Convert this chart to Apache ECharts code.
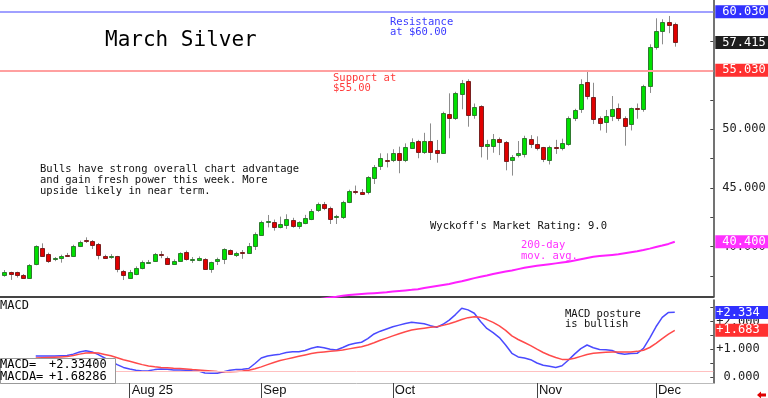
<!DOCTYPE html>
<html>
<head>
<meta charset="utf-8">
<script src="https://cdn.jsdelivr.net/npm/echarts@6/dist/echarts.min.js"></script>
<style>
  html, body { margin: 0; padding: 0; background: #fff; }
  #chart { width: 768px; height: 398px; }
</style>
</head>
<body>
<div id="chart"></div>
<script>
// daily candles, index 0 = first session shown (early July)
const opens = [37.51, 37.8, 37.8, 37.6, 37.37, 38.48, 39.85, 39.33, 38.87, 38.99,
  39.3, 39.19, 39.98, 40.52, 40.47, 40.19, 39.19, 39.1, 39.16, 37.91,
  37.37, 37.63, 38.14, 38.62, 38.76, 39.37, 39.05, 38.57, 38.76, 39.5,
  38.88, 38.79, 38.93, 38.08, 38.7, 38.91, 39.7, 39.27, 39.52, 39.5,
  40.05, 41.0, 42.1, 42.12, 41.63, 41.83, 42.26, 41.69, 42.03, 42.35,
  43.06, 43.6, 43.31, 42.5, 42.46, 43.77, 44.7, 44.68, 44.59, 45.9,
  46.81, 47.42, 47.32, 47.95, 47.32, 48.46, 49.03, 48.09, 49.0, 48.23,
  47.95, 51.28, 50.94, 53.07, 54.15, 51.22, 51.99, 48.55, 48.6, 49.15,
  48.9, 47.4, 47.8, 47.95, 49.15, 48.75, 48.45, 47.3, 48.5, 48.4,
  48.8, 51.0, 51.7, 54.0, 52.78, 51.0, 50.6, 51.1, 51.8, 50.95,
  50.43, 51.8, 51.7, 53.7, 57.0, 58.4, 59.13, 58.98];
const closes = [37.8, 37.6, 37.57, 37.37, 38.45, 40.02, 39.13, 38.76, 38.99, 39.19,
  39.25, 40.07, 40.36, 40.48, 40.13, 39.22, 39.02, 39.17, 38.02, 37.57,
  37.85, 38.17, 38.65, 38.7, 39.33, 39.3, 38.57, 38.79, 39.42, 38.91,
  38.95, 38.99, 38.06, 38.65, 38.91, 39.76, 39.36, 39.45, 39.48, 40.07,
  41.1, 42.12, 42.17, 41.69, 41.89, 42.32, 41.75, 42.06, 42.46, 43.06,
  43.6, 43.26, 42.35, 42.56, 43.77, 44.74, 44.66, 44.54, 45.9, 46.81,
  47.52, 47.36, 47.95, 47.32, 48.46, 48.94, 48.09, 49.0, 48.09, 47.95,
  51.37, 50.94, 53.07, 53.97, 51.22, 51.93, 48.58, 48.75, 49.17, 48.9,
  47.3, 47.65, 48.0, 49.3, 48.75, 48.4, 47.4, 48.45, 48.45, 48.85,
  51.0, 51.65, 53.87, 52.84, 50.94, 50.56, 51.13, 51.7, 50.94, 50.3,
  51.8, 51.75, 53.7, 57.05, 58.4, 59.13, 58.9, 57.415];
const highs = [37.99, 37.85, 37.85, 37.65, 38.5, 40.1, 40.27, 39.47, 39.1, 39.3,
  39.45, 40.15, 40.5, 40.78, 40.55, 40.3, 39.3, 39.35, 39.2, 38.0,
  38.0, 38.3, 38.8, 38.85, 39.45, 39.6, 39.15, 38.9, 39.5, 39.65,
  39.1, 39.15, 39.0, 38.7, 39.05, 39.85, 39.75, 39.55, 39.7, 40.3,
  41.2, 42.2, 42.69, 42.3, 42.55, 42.75, 42.45, 42.15, 42.7, 43.2,
  43.75, 43.8, 43.4, 42.7, 43.9, 44.85, 45.2, 44.9, 46.0, 46.95,
  47.95, 47.95, 48.3, 48.52, 48.8, 49.23, 49.1, 49.7, 50.5, 49.09,
  51.5, 53.07, 53.2, 54.21, 54.27, 52.2, 52.05, 49.1, 49.6, 49.3,
  49.0, 47.8, 49.0, 49.45, 49.5, 49.4, 48.5, 48.6, 49.1, 49.2,
  51.1, 51.75, 54.27, 55.06, 53.97, 51.1, 51.65, 52.84, 52.2, 51.1,
  51.85, 52.2, 53.8, 57.25, 59.47, 59.39, 59.67, 59.1];
const lows = [37.42, 37.15, 37.35, 37.3, 37.3, 38.4, 39.1, 38.6, 38.75, 38.62,
  39.1, 39.1, 39.95, 40.3, 39.79, 38.9, 38.95, 38.95, 37.8, 37.14,
  37.25, 37.55, 38.05, 38.55, 38.7, 39.0, 38.45, 38.45, 38.7, 38.8,
  38.6, 38.75, 38.0, 37.76, 38.42, 38.5, 39.3, 39.1, 38.95, 39.45,
  39.7, 40.9, 41.63, 41.35, 41.55, 41.5, 41.6, 41.5, 41.9, 42.25,
  42.95, 43.1, 41.92, 41.92, 42.35, 43.7, 44.45, 44.45, 44.45, 45.33,
  46.53, 46.75, 47.2, 46.25, 47.2, 48.4, 47.53, 47.9, 47.38, 47.15,
  47.9, 49.23, 50.8, 51.71, 50.22, 50.9, 47.6, 47.4, 48.0, 47.8,
  46.5, 46.05, 47.6, 47.6, 48.4, 48.2, 47.2, 47.0, 47.9, 48.2,
  48.6, 50.7, 51.4, 52.55, 50.45, 49.9, 49.7, 50.7, 50.7, 48.6,
  49.9, 50.9, 51.5, 53.1, 56.8, 57.25, 58.2, 57.05];

// 200-day moving average, visible from index maStart on
const maStart = 50;
const maValues = [35.49, 35.57, 35.65, 35.72, 35.8, 35.86, 35.9, 35.94, 35.98, 36.02,
  36.06, 36.1, 36.15, 36.2, 36.25, 36.3, 36.36, 36.45, 36.54, 36.63,
  36.72, 36.8, 36.92, 37.04, 37.17, 37.3, 37.42, 37.53, 37.65, 37.76,
  37.86, 37.96, 38.07, 38.18, 38.28, 38.35, 38.42, 38.49, 38.56, 38.63,
  38.7, 38.8, 38.91, 39.02, 39.13, 39.18, 39.23, 39.28, 39.33, 39.42,
  39.51, 39.6, 39.7, 39.82, 39.95, 40.08, 40.22, 40.4];

// MACD panel, from index macdStart on
const macdStart = 5;
const macdValues = [0.75, 0.75, 0.75, 0.75, 0.76, 0.77, 0.82, 0.9, 0.94, 0.9,
  0.8, 0.68, 0.56, 0.44, 0.34, 0.28, 0.24, 0.21, 0.22, 0.26,
  0.28, 0.27, 0.25, 0.25, 0.24, 0.22, 0.21, 0.14, 0.13, 0.13,
  0.18, 0.24, 0.26, 0.27, 0.3, 0.48, 0.68, 0.75, 0.79, 0.82,
  0.88, 0.91, 0.91, 0.95, 1.03, 1.09, 1.05, 1.0, 0.97, 1.06,
  1.16, 1.21, 1.25, 1.38, 1.55, 1.65, 1.73, 1.81, 1.87, 1.93,
  1.97, 1.95, 1.92, 1.85, 1.79, 1.9, 2.05, 2.25, 2.48, 2.42,
  2.3, 2.0, 1.75, 1.6, 1.42, 1.15, 0.85, 0.72, 0.68, 0.62,
  0.5, 0.42, 0.38, 0.34, 0.4, 0.6, 0.82, 1.02, 1.15, 1.05,
  0.99, 0.98, 0.95, 0.85, 0.82, 0.84, 0.85, 1.03, 1.4, 1.81,
  2.15, 2.33, 2.334];
const signalValues = [0.68, 0.69, 0.7, 0.71, 0.72, 0.73, 0.77, 0.82, 0.86, 0.87,
  0.86, 0.81, 0.76, 0.69, 0.62, 0.56, 0.5, 0.44, 0.39, 0.36,
  0.34, 0.33, 0.31, 0.3, 0.28, 0.26, 0.25, 0.23, 0.21, 0.19,
  0.18, 0.18, 0.19, 0.21, 0.24, 0.29, 0.36, 0.44, 0.52, 0.59,
  0.64, 0.69, 0.74, 0.79, 0.84, 0.88, 0.9, 0.92, 0.94, 0.97,
  1.01, 1.05, 1.09, 1.15, 1.23, 1.32, 1.4, 1.48, 1.56, 1.63,
  1.69, 1.73, 1.76, 1.79, 1.81, 1.86, 1.92, 1.99, 2.07, 2.14,
  2.17, 2.15, 2.07, 1.97, 1.84, 1.68, 1.48, 1.35, 1.24, 1.13,
  1.0, 0.88, 0.78, 0.7, 0.63, 0.63, 0.67, 0.74, 0.81, 0.85,
  0.87, 0.89, 0.9, 0.9, 0.9, 0.9, 0.92, 0.96, 1.06, 1.21,
  1.38, 1.54, 1.683];
const macdBase = 0.2;
const macdReadout = ['+2.33400', '+1.68286'];

const resistance = 60.03;
const support = 55.03;
const monthTicks = [20, 41, 62, 85, 104];
const monthNames = ['Aug 25', 'Sep', 'Oct', 'Nov', 'Dec'];
const priceTicks = [37.5, 40, 42.5, 45, 47.5, 50, 52.5, 55, 57.5, 60];
const priceLabels = [40, 45, 50, 55, 60];
const macdTicks = [0, 0.5, 1, 1.5, 2, 2.5];
const macdLabels = [0, 1, 2];

const MONO = '"DejaVu Sans Mono", monospace';
const SANS = '"Liberation Sans", Arial, sans-serif';

const candleData = opens.map((o, i) => [i, o, closes[i], lows[i], highs[i]]);
const maData = maValues.map((v, i) => [maStart + i, v]);
const macdData = macdValues.map((v, i) => [macdStart + i, v]);
const signalData = signalValues.map((v, i) => [macdStart + i, v]);
const lastClose = closes[closes.length - 1];
const lastMa = maValues[maValues.length - 1];
const lastMacd = macdValues[macdValues.length - 1];
const lastSignal = signalValues[signalValues.length - 1];

function renderCandle(params, api) {
  const i = api.value(0);
  const open = api.value(1), close = api.value(2);
  const pOpen = api.coord([i, open]);
  const pClose = api.coord([i, close]);
  const pLow = api.coord([i, api.value(3)]);
  const pHigh = api.coord([i, api.value(4)]);
  const cx = Math.round(pOpen[0]) + 0.5;
  const up = close >= open;
  const top = Math.round(Math.min(pOpen[1], pClose[1])) + 0.5;
  const h = Math.max(Math.round(Math.abs(pOpen[1] - pClose[1])), 1);
  return {
    type: 'group',
    children: [
      { type: 'line', shape: { x1: cx, y1: pHigh[1], x2: cx, y2: pLow[1] },
        style: { stroke: '#8c8c8c', lineWidth: 1 } },
      { type: 'rect', shape: { x: cx - 2, y: top, width: 4, height: h },
        style: { fill: up ? '#00e000' : '#e00000', stroke: up ? '#2f7a2f' : '#7a2020', lineWidth: 1 } }
    ]
  };
}

// value box at the right edge of a level line
function boxLabel(bg, pad, text) {
  return {
    show: true, position: 'end', distance: 2,
    fontFamily: MONO, fontSize: 12, lineHeight: 12, color: '#fff',
    backgroundColor: bg, padding: [1, 0, 0, pad], width: 53 - pad,
    formatter: () => text
  };
}
const hidden = { color: 'rgba(0,0,0,0)', width: 0 };

function note(text, x, y, color, size, lh) {
  return {
    type: 'text', x: x, y: y, z: 50,
    style: { text: text, fill: color, font: size + 'px ' + MONO, lineHeight: lh || size, verticalAlign: 'top' }
  };
}

const chart = echarts.init(document.getElementById('chart'), null, { renderer: 'canvas' });
chart.setOption({
  animation: false,
  backgroundColor: '#fff',
  grid: [
    { left: 0, right: 54.7, top: 0, height: 297, outerBoundsMode: 'none' },
    { left: 0, right: 54.7, top: 300, height: 83, outerBoundsMode: 'none' }
  ],
  xAxis: [
    { type: 'value', gridIndex: 0, min: -0.702, max: 113.15,
      axisLine: { show: true, onZero: false, lineStyle: { color: '#444', width: 2 } },
      axisTick: { show: false }, axisLabel: { show: false }, splitLine: { show: false } },
    { type: 'value', gridIndex: 1, min: -0.702, max: 113.15,
      axisLine: { show: true, onZero: false, lineStyle: { color: '#bbb', width: 1 } },
      axisTick: { show: true, length: 15, customValues: monthTicks, lineStyle: { color: '#444' } },
      axisLabel: { show: true, customValues: monthTicks, align: 'left', margin: 1, padding: [0, 0, 0, 2],
        fontFamily: SANS, fontSize: 13, color: '#111',
        formatter: v => monthNames[monthTicks.indexOf(Math.round(v))] || '' },
      splitLine: { show: false } }
  ],
  yAxis: [
    { type: 'value', gridIndex: 0, position: 'right', min: 35.691, max: 61.032,
      axisLine: { show: true, onZero: false, lineStyle: { color: '#444', width: 1.5 } },
      axisTick: { show: true, inside: true, length: 3, customValues: priceTicks, lineStyle: { color: '#444' } },
      axisLabel: { customValues: priceLabels, margin: 9, align: 'left', fontFamily: MONO, fontSize: 12, color: '#222',
        formatter: v => v.toFixed(3) },
      splitLine: { show: false } },
    { type: 'value', gridIndex: 1, position: 'right', min: -0.224, max: 2.778,
      axisLine: { show: true, onZero: false, lineStyle: { color: '#444', width: 1.5 } },
      axisTick: { show: true, inside: true, length: 3, customValues: macdTicks, lineStyle: { color: '#444' } },
      axisLabel: { customValues: macdLabels, margin: 3, align: 'left', fontFamily: MONO, fontSize: 12, color: '#222',
        formatter: v => (v === 0 ? ' ' : '+') + v.toFixed(3) },
      splitLine: { show: false } }
  ],
  series: [
    {
      name: 'Silver', type: 'custom', xAxisIndex: 0, yAxisIndex: 0,
      renderItem: renderCandle, data: candleData, encode: { x: 0, y: [1, 2, 3, 4] }, z: 3
    },
    {
      name: '200-day', type: 'line', xAxisIndex: 0, yAxisIndex: 0, data: maData,
      showSymbol: false, lineStyle: { color: '#ff20ff', width: 2 }, clip: true, z: 2,
      markLine: {
        silent: true, symbol: 'none', animation: false,
        data: [
          { yAxis: resistance, lineStyle: { color: '#a0a0ff', width: 2, type: 'solid' }, label: boxLabel('#3030ff', 7, resistance.toFixed(3)) },
          { yAxis: support, lineStyle: { color: '#ffa0a0', width: 2, type: 'solid' }, label: boxLabel('#ff3030', 7, support.toFixed(3)) },
          { yAxis: lastClose, lineStyle: hidden, label: boxLabel('#1e1e1e', 7, lastClose.toFixed(3)) },
          { yAxis: lastMa, lineStyle: hidden, label: boxLabel('#ff30ff', 7, lastMa.toFixed(3)) }
        ]
      }
    },
    {
      name: 'MACD', type: 'line', xAxisIndex: 1, yAxisIndex: 1, data: macdData,
      showSymbol: false, lineStyle: { color: '#4a4aff', width: 1.5 }, z: 3,
      markLine: {
        silent: true, symbol: 'none', animation: false,
        data: [
          { yAxis: lastMacd, lineStyle: hidden, label: boxLabel('#3030ff', 1, '+' + lastMacd.toFixed(3)) }
        ]
      }
    },
    {
      name: 'MACDA', type: 'line', xAxisIndex: 1, yAxisIndex: 1, data: signalData,
      showSymbol: false, lineStyle: { color: '#ff4a4a', width: 1.5 }, z: 3,
      markLine: {
        silent: true, symbol: 'none', animation: false,
        data: [
          { yAxis: macdBase, lineStyle: { color: '#ffc0c0', width: 1, type: 'solid' }, label: { show: false } },
          { yAxis: lastSignal, lineStyle: hidden, label: boxLabel('#ff3030', 1, '+' + lastSignal.toFixed(3)) }
        ]
      }
    }
  ],
  graphic: [
    { type: 'text', x: 105, y: 41, z: 50,
      style: { text: 'March Silver', fill: '#000', font: '21px ' + MONO, verticalAlign: 'middle' } },
    note('Resistance\nat $60.00', 390, 17.3, '#3a3aff', 10.5, 10),
    note('Support at\n$55.00', 333, 73.7, '#ff3a3a', 10.5, 10),
    note('Bulls have strong overall chart advantage\nand gain fresh power this week. More\nupside likely in near term.', 40, 164, '#111', 10.5, 10.8),
    note("Wyckoff's Market Rating: 9.0", 430, 221.5, '#111', 10.5, 10.5),
    note('200-day\nmov. avg.', 521, 240.4, '#ff30ff', 10.5, 10.6),
    note('MACD posture\nis bullish', 565, 309.7, '#111', 10.5, 10),
    note('MACD', 0, 300, '#111', 12, 12),
    { type: 'rect', z: 60, shape: { x: 0.5, y: 358.5, width: 115, height: 25 },
      style: { fill: '#fff', stroke: '#999', lineWidth: 1 } },
    { type: 'text', x: 0, y: 358.5, z: 61,
      style: { text: 'MACD=\nMACDA=', fill: '#000', font: '12px ' + MONO, lineHeight: 12.5, verticalAlign: 'top' } },
    { type: 'text', x: 49, y: 358.5, z: 61,
      style: { text: macdReadout.join('\n'), fill: '#000', font: '12px ' + MONO, lineHeight: 12.5, verticalAlign: 'top' } },
    { type: 'polygon', z: 50,
      shape: { points: [[757, 395], [761, 391.5], [761, 393.5], [766, 393.5], [766, 396.5], [761, 396.5], [761, 398.5]] },
      style: { fill: '#e00000' } }
  ]
});
</script>
</body>
</html>
